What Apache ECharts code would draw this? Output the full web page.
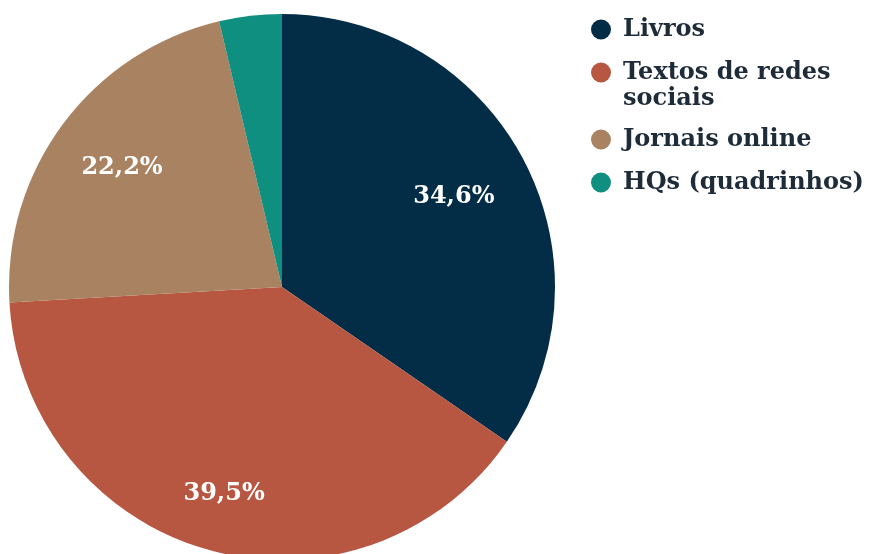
<!DOCTYPE html>
<html><head><meta charset="utf-8">
<script src="https://cdn.jsdelivr.net/npm/echarts@6/dist/echarts.min.js"></script>
<style>html,body{margin:0;padding:0;background:#fff}#c{width:872px;height:554px}</style>
</head><body><div id="c"></div>
<script>
const categories = ['Livros', 'Textos de redes sociais', 'Jornais online', 'HQs (quadrinhos)'];
const values = [34.6, 39.5, 22.2, 3.7];
const colors = ['#032c47', '#b85741', '#a98262', '#0f8f7f'];
const legendFirstLines = ['Livros', 'Textos de redes', 'Jornais online', 'HQs (quadrinhos)'];
const legendSecondLine = 'sociais';
const showLabel = [true, true, true, false];

const font = '"DejaVu Serif", Georgia, serif';
const R = 273;
const CENTER = [282, 287];
// radial position of each inside label, as a fraction of the radius
const labelRadiusFrac = [0.70, 0.775, 0.72, 0.7];

const chart = echarts.init(document.getElementById('c'));
const data = categories.map((n, i) => ({ name: n, value: values[i], itemStyle: { color: colors[i] } }));

const legendText = { fontFamily: font, fontWeight: 'bold', fontSize: 24, color: '#1e2b38', lineHeight: 27 };
const legendCommon = {
  orient: 'vertical', left: 586, itemGap: 16,
  icon: 'circle', itemWidth: 34, itemHeight: 20,
  formatter: n => legendFirstLines[categories.indexOf(n)],
  textStyle: legendText
};

const labelSeries = categories.map((c, k) => {
  const f = labelRadiusFrac[k];
  return {
    type: 'pie', center: CENTER, radius: [Math.max(0, (2 * f - 1) * R), R], startAngle: 90, clockwise: true,
    silent: true, legendHoverLink: false,
    itemStyle: { color: 'rgba(0,0,0,0)' },
    label: { position: 'inside', formatter: p => String(p.value).replace('.', ',') + '%', fontFamily: font, fontWeight: 'bold', fontSize: 24, color: '#ffffff' },
    labelLine: { show: false },
    data: categories.map((n, i) => ({ name: n, value: values[i], label: { show: i === k && showLabel[i] } }))
  };
});

chart.setOption({
  animation: false,
  legend: [
    Object.assign({}, legendCommon, { top: 11, data: categories.slice(0, 2) }),
    Object.assign({}, legendCommon, { top: 121, data: categories.slice(2) })
  ],
  graphic: [{
    type: 'text', left: 623, top: 87,
    style: { text: legendSecondLine, font: 'bold 24px ' + font, fill: '#1e2b38' }
  }],
  series: [{
    type: 'pie', center: CENTER, radius: [0, R], startAngle: 90, clockwise: true,
    label: { show: false }, labelLine: { show: false }, data: data, silent: true
  }].concat(labelSeries)
});
</script></body></html>
